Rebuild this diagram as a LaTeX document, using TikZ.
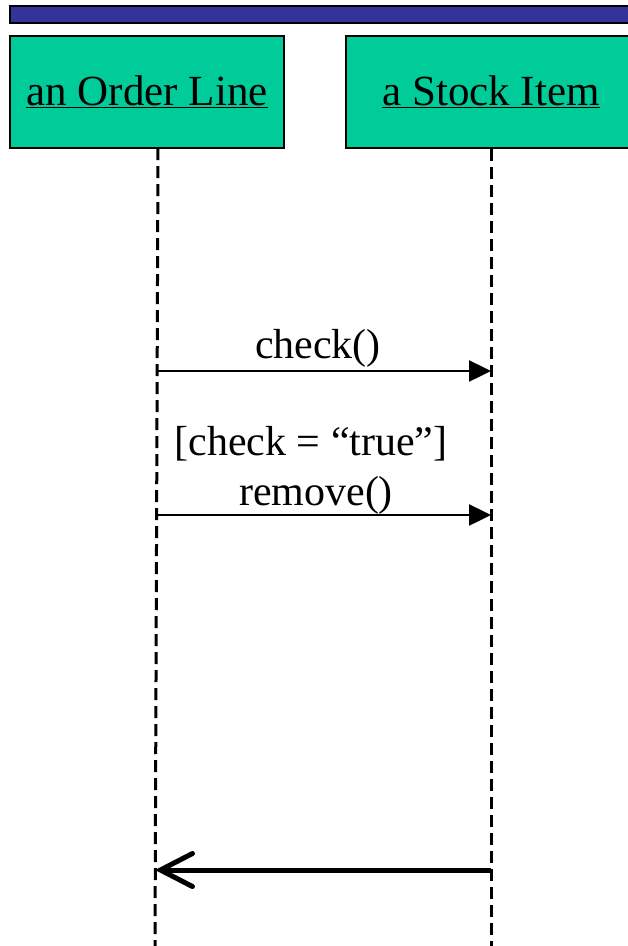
\documentclass[tikz,border=0pt]{standalone}
\usepackage{fontspec}
\setmainfont{Liberation Serif}
\usepackage{tikz}
\usetikzlibrary{arrows.meta, positioning}
\definecolor{barblue}{RGB}{51,51,153}
\definecolor{objgreen}{RGB}{0,204,153}
\tikzset{
  objbox/.style={rectangle, draw=black, fill=objgreen, line width=1.5pt, minimum height=112pt,
    inner sep=0pt, font=\fontsize{43}{47}\selectfont},
  lifeline/.style={line width=3pt, dash pattern=on 12pt off 6pt},
  msg/.style={-{Triangle[length=22pt,width=21pt]}, line width=2.5pt},
  reply/.style={-{Straight Barb[length=32pt,width=33pt,line cap=round]}, line width=5pt},
  msglabel/.style={font=\fontsize{42}{46}\selectfont, inner sep=0pt, anchor=base}
}

\begin{document}
\begin{tikzpicture}[x=1pt,y=1pt]
  \useasboundingbox (0,0) rectangle (628,-946);
  % title bar
  \draw[fill=barblue, line width=1.5pt] (10,-6) rectangle (640,-23);
  % objects
  \node[objbox, minimum width=274pt] (orderline) at (147,-92) {\underline{an Order Line}};
  \node[objbox, minimum width=290pt] (stockitem) at (491,-92) {\underline{a Stock Item}};
  % lifelines
  \coordinate (olTop) at (158,-148);
  \coordinate (olEnd) at (155,-946);
  \coordinate (siTop) at (stockitem.south);
  \coordinate (siEnd) at (491,-946);
  \draw[lifeline] (olTop) -- (olEnd);
  \draw[lifeline] (siTop) -- (siEnd);
  % check()
  \coordinate (checkA) at (158,-371);
  \coordinate (checkB) at (491,-371);
  \draw[msg] (checkA) -- (checkB);
  \node[msglabel] (checkLbl) at (318,-358) {check()};
  % [check = "true"] remove()
  \coordinate (removeA) at (157,-515);
  \coordinate (removeB) at (491,-515);
  \draw[msg] (removeA) -- (removeB);
  \node[msglabel] (guardLbl) at (311,-455) {[check = “true”]};
  \node[msglabel] (removeLbl) at (316,-505) {remove()};
  % return
  \coordinate (backA) at (491,-870);
  \coordinate (backB) at (155,-870);
  \draw[reply] (backA) -- (backB);
\end{tikzpicture}
\end{document}
